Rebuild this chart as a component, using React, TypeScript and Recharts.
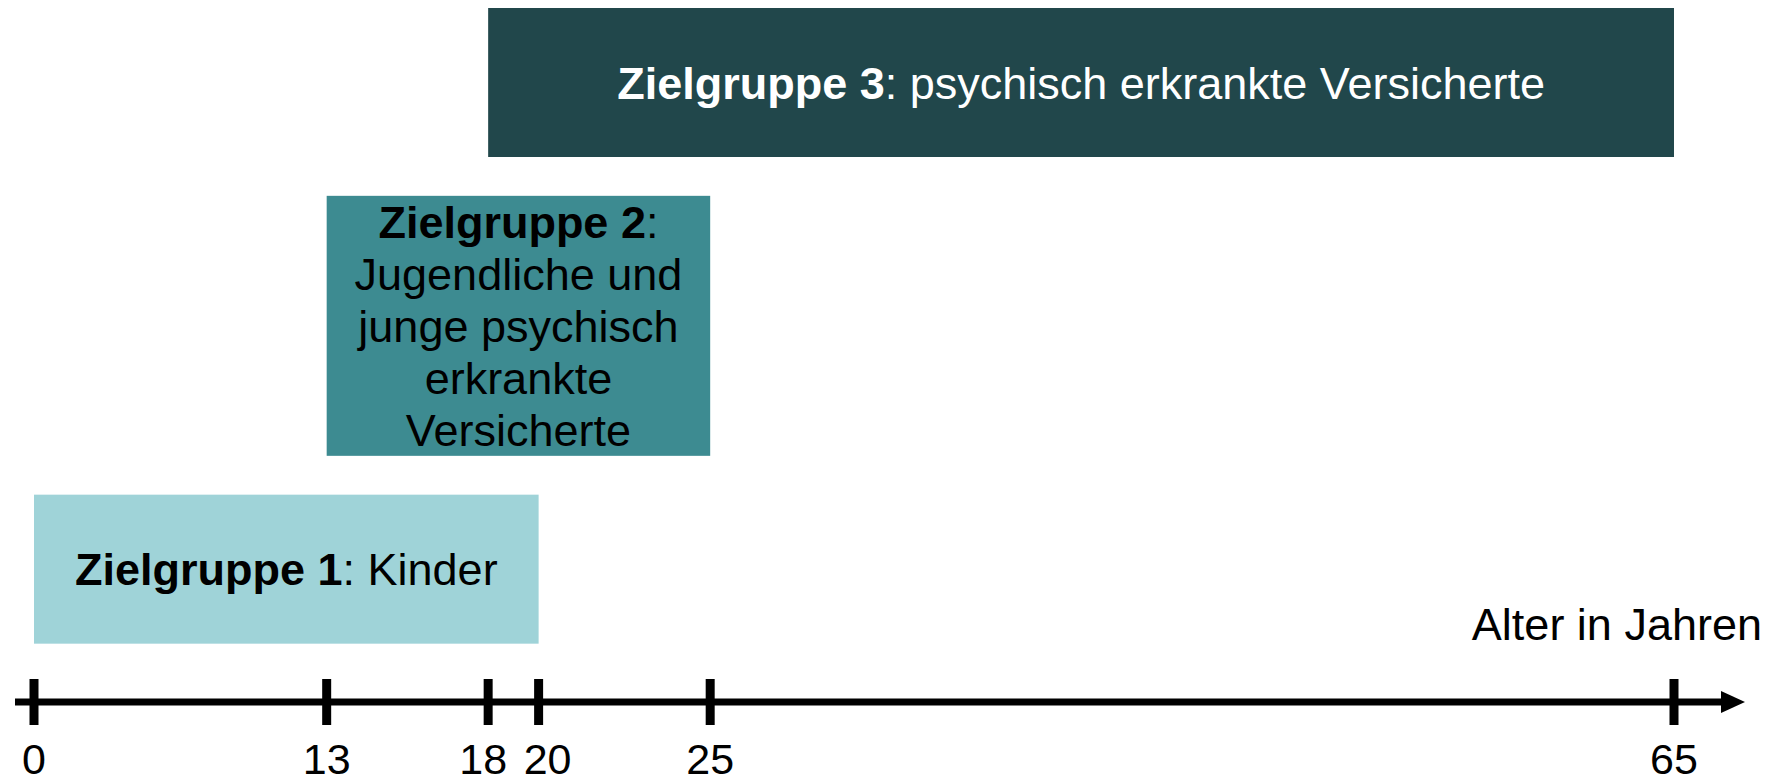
import { Bar, BarChart, XAxis, YAxis } from 'recharts';

const ages = [0, 13, 18, 20, 25, 65];
// the age axis in the original is drawn schematically, not to scale:
// where each age sits along it
const agePlacement = [0, 11.6, 18, 20, 26.8, 65];

const groupTitles = ['Zielgruppe 1', 'Zielgruppe 2', 'Zielgruppe 3'];
const groupLabels = [
  'Kinder',
  'Jugendliche und junge psychisch erkrankte Versicherte',
  'psychisch erkrankte Versicherte',
];
const groupFromAge = [0, 13, 18];
const groupToAge = [20, 25, 65];
const axisTitle = 'Alter in Jahren';

const boxColors = ['#9fd3d8', '#3d8b91', '#21474b'];
const textColors = ['#000000', '#000000', '#ffffff'];

const FONT = '"Liberation Sans", Arial, sans-serif';
const FONT_SIZE = 45;
const TICK_FONT_SIZE = 43;
const LINE_HEIGHT = 52;

const place = (age: number) => agePlacement[ages.indexOf(age)];

const data = groupTitles.map((title, i) => ({
  title,
  label: groupLabels[i],
  span: [place(groupFromAge[i]), place(groupToAge[i])],
}));

let ctx: CanvasRenderingContext2D | null = null;
function textWidth(s: string, bold: boolean) {
  if (!ctx) ctx = document.createElement('canvas').getContext('2d');
  if (!ctx) return s.length * FONT_SIZE * 0.5;
  ctx.font = `${bold ? 'bold ' : ''}${FONT_SIZE}px ${FONT}`;
  return ctx.measureText(s).width;
}

// bold title + ':' then the description, wrapped to the box width
function wrap(title: string, label: string, maxWidth: number) {
  const lines = [{ bold: title, rest: ':' }];
  for (const word of label.split(' ')) {
    const last = lines[lines.length - 1];
    const tryRest = last.rest === '' ? word : last.rest + ' ' + word;
    if (textWidth(last.bold, true) + textWidth(tryRest, false) <= maxWidth) {
      last.rest = tryRest;
    } else {
      lines.push({ bold: '', rest: word });
    }
  }
  return lines;
}

function GroupBox(props: any) {
  const { x, y, width, height, index } = props;
  const entry = props.payload ?? props;
  const lines = wrap(entry.title, entry.label, width - 40);
  const h = Math.max(height, lines.length * LINE_HEIGHT);
  const cy = y + height / 2;
  return (
    <g>
      <rect x={x} y={cy - h / 2} width={width} height={h} fill={boxColors[index]} />
      {lines.map((line, i) => (
        <text
          key={i}
          x={x + width / 2}
          y={cy + (i - (lines.length - 1) / 2) * LINE_HEIGHT}
          textAnchor="middle"
          dominantBaseline="central"
          fontFamily={FONT}
          fontSize={FONT_SIZE}
          fill={textColors[index]}
        >
          {line.bold && <tspan fontWeight="bold">{line.bold}</tspan>}
          {line.rest && <tspan>{line.rest}</tspan>}
        </text>
      ))}
    </g>
  );
}

// labels of ticks that sit very close together are pushed apart a little
function labelNudge(value: number) {
  const i = agePlacement.indexOf(value);
  let dx = 0;
  if (i > 0 && value - agePlacement[i - 1] < 3) dx += 9;
  if (i < agePlacement.length - 1 && agePlacement[i + 1] - value < 3) dx -= 5;
  return dx;
}

function AgeTick({ x, y, payload }: any) {
  const age = ages[agePlacement.indexOf(payload.value)];
  return (
    <g>
      <line x1={x} x2={x} y1={y - 23} y2={y + 23} stroke="#000" strokeWidth={9} />
      <text
        x={x + labelNudge(payload.value)}
        y={y + 72}
        textAnchor="middle"
        fontFamily={FONT}
        fontSize={TICK_FONT_SIZE}
        fill="#000"
      >
        {age}
      </text>
    </g>
  );
}

function AxisTitle({ viewBox }: any) {
  return (
    <text
      x={viewBox.x + viewBox.width + 27}
      y={viewBox.y - 62}
      textAnchor="end"
      fontFamily={FONT}
      fontSize={FONT_SIZE}
      fill="#000"
    >
      {axisTitle}
    </text>
  );
}

export default function App() {
  return (
    <div style={{ position: 'absolute', left: 0, top: 0 }}>
      <BarChart
        width={1785}
        height={778}
        data={data}
        layout="vertical"
        margin={{ top: 0, right: 50, bottom: 0, left: 15 }}
      >
        <defs>
          <marker
            id="axisArrow"
            markerUnits="userSpaceOnUse"
            markerWidth={24}
            markerHeight={22}
            refX={14}
            refY={11}
            orient="auto"
          >
            <path d="M0,0 L24,11 L0,22 Z" fill="#000" />
          </marker>
        </defs>
        <XAxis
          type="number"
          domain={[0, 65]}
          ticks={agePlacement}
          interval={0}
          height={76}
          padding={{ left: 19, right: 61 }}
          tickSize={0}
          tickMargin={0}
          tickLine={false}
          tick={<AgeTick />}
          axisLine={{ stroke: '#000', strokeWidth: 7, markerEnd: 'url(#axisArrow)' }}
          label={(p: any) => <AxisTitle {...p} />}
        />
        <YAxis
          type="category"
          dataKey="title"
          hide
          reversed
          padding={{ top: -39, bottom: 11 }}
        />
        <Bar dataKey="span" barSize={149} isAnimationActive={false} shape={<GroupBox />} />
      </BarChart>
    </div>
  );
}
